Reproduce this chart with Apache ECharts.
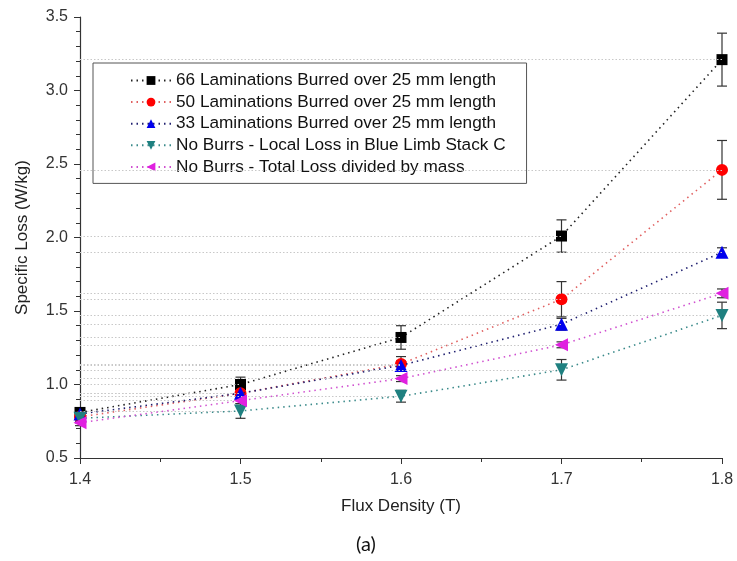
<!DOCTYPE html>
<html>
<head>
<meta charset="utf-8">
<script src="https://cdn.jsdelivr.net/npm/echarts@6/dist/echarts.min.js"></script>
<style>
  html, body { margin: 0; padding: 0; background: #fff; }
  #chart { width: 737px; height: 561px; }
</style>
</head>
<body>
<div id="chart"></div>
<script>
// flux density (T)
const fluxDensity = [1.4, 1.5, 1.6, 1.7, 1.8]

// specific loss (W/kg) and error half-widths
const lam66 = [0.81, 1.00, 1.32, 2.01, 3.21]
const err66 = [0.03, 0.05, 0.08, 0.11, 0.18]
const lam50 = [0.78, 0.94, 1.14, 1.58, 2.46]
const err50 = [0.03, 0.04, 0.05, 0.12, 0.20]
const lam33 = [0.80, 0.94, 1.13, 1.41, 1.90]
const err33 = [0.02, 0.02, 0.03, 0.04, 0.03]
const localLoss = [0.77, 0.82, 0.92, 1.10, 1.47]
const errLocal = [0.03, 0.05, 0.04, 0.07, 0.09]
const totalLoss = [0.74, 0.89, 1.04, 1.27, 1.62]
const errTotal = [0.02, 0.02, 0.02, 0.02, 0.03]

const seriesNames = [
  '66 Laminations Burred over 25 mm length',
  '50 Laminations Burred over 25 mm length',
  '33 Laminations Burred over 25 mm length',
  'No Burrs - Local Loss in Blue Limb Stack C',
  'No Burrs - Total Loss divided by mass'
]

const font = 'Liberation Sans, Arial, sans-serif'

// one entry per series: values, errors, look
const groups = [
  { name: seriesNames[0], y: lam66, err: err66, color: '#000000', line: '#222222', symbol: 'rect', size: 11, rotate: 0 },
  { name: seriesNames[1], y: lam50, err: err50, color: '#ff0000', line: '#e06060', symbol: 'circle', size: 12, rotate: 0 },
  { name: seriesNames[2], y: lam33, err: err33, color: '#0000ee', line: '#202070', symbol: 'triangle', size: 13, rotate: 0 },
  { name: seriesNames[3], y: localLoss, err: errLocal, color: '#1f8080', line: '#3a8a8a', symbol: 'triangle', size: 13, rotate: 180 },
  { name: seriesNames[4], y: totalLoss, err: errTotal, color: '#e020e0', line: '#d050d0', symbol: 'triangle', size: 13, rotate: 90 }
]

const series = []

groups.forEach((g, i) => {
  // error bars
  series.push({
    type: 'custom',
    name: g.name + ' err',
    z: 1,
    silent: true,
    data: fluxDensity.map((x, k) => [x, g.y[k] - g.err[k], g.y[k] + g.err[k]]),
    renderItem: (params, api) => {
      const lo = api.coord([api.value(0), api.value(1)])
      const hi = api.coord([api.value(0), api.value(2)])
      const cap = 5
      const style = { stroke: '#333', lineWidth: 1.2 }
      return {
        type: 'group',
        children: [
          { type: 'line', shape: { x1: lo[0], y1: lo[1], x2: hi[0], y2: hi[1] }, style },
          { type: 'line', shape: { x1: lo[0] - cap, y1: lo[1], x2: lo[0] + cap, y2: lo[1] }, style },
          { type: 'line', shape: { x1: hi[0] - cap, y1: hi[1], x2: hi[0] + cap, y2: hi[1] }, style }
        ]
      }
    }
  })
  // points + dotted line + horizontal drop lines
  series.push({
    type: 'line',
    name: g.name,
    z: 2 + i,
    data: fluxDensity.map((x, k) => [x, g.y[k]]),
    symbol: g.symbol,
    symbolSize: g.size,
    symbolRotate: g.rotate,
    itemStyle: { color: g.color },
    lineStyle: { color: g.line, width: 1.6, type: [1.5, 4] },
    markLine: {
      silent: true,
      symbol: 'none',
      label: { show: false },
      lineStyle: { color: '#c8c8c8', width: 1, type: [1.5, 2] },
      data: fluxDensity.slice(1).map((x, k) => [
        { coord: [fluxDensity[0], g.y[k + 1]] },
        { coord: [x, g.y[k + 1]] }
      ])
    }
  })
})

const chart = echarts.init(document.getElementById('chart'))

chart.setOption({
  animation: false,
  backgroundColor: '#fff',
  grid: { left: 80, right: 15, top: 17, bottom: 103, outerBoundsMode: 'none', containLabel: false },
  legend: {
    data: seriesNames,
    orient: 'vertical',
    left: 93,
    top: 63,
    padding: [9, 21, 8, 37],
    itemWidth: 40,
    itemHeight: 11,
    itemGap: 4.6,
    borderColor: '#555',
    borderWidth: 1,
    textStyle: { fontFamily: font, fontSize: 17.2, color: '#111' }
  },
  xAxis: {
    type: 'value',
    min: 1.4,
    max: 1.8,
    interval: 0.1,
    name: 'Flux Density (T)',
    nameLocation: 'middle',
    nameGap: 40,
    nameTextStyle: { fontFamily: font, fontSize: 17, color: '#222' },
    axisLine: { lineStyle: { color: '#333', width: 1.2 } },
    axisTick: { inside: false, length: 6, lineStyle: { color: '#333' } },
    minorTick: { show: true, splitNumber: 2, length: 4, lineStyle: { color: '#333' } },
    axisLabel: { margin: 14, fontFamily: font, fontSize: 16, color: '#333', formatter: v => v.toFixed(1) },
    splitLine: { show: false }
  },
  yAxis: {
    type: 'value',
    min: 0.5,
    max: 3.5,
    interval: 0.5,
    name: 'Specific Loss (W/kg)',
    nameLocation: 'middle',
    nameGap: 49,
    nameTextStyle: { fontFamily: font, fontSize: 17, color: '#222' },
    axisLine: { show: true, lineStyle: { color: '#333', width: 1.2 } },
    axisTick: { show: true, inside: false, length: 6, lineStyle: { color: '#333' } },
    minorTick: { show: true, splitNumber: 5, length: 4, lineStyle: { color: '#333' } },
    axisLabel: { margin: 12, fontFamily: font, fontSize: 16, color: '#333', formatter: v => v.toFixed(1) },
    splitLine: { show: false }
  },
  graphic: [{
    type: 'text',
    left: 356,
    top: 535,
    style: { text: '(a)', font: '20px Lato, "Open Sans", sans-serif', fill: '#111' }
  }],
  series
})
</script>
</body>
</html>
